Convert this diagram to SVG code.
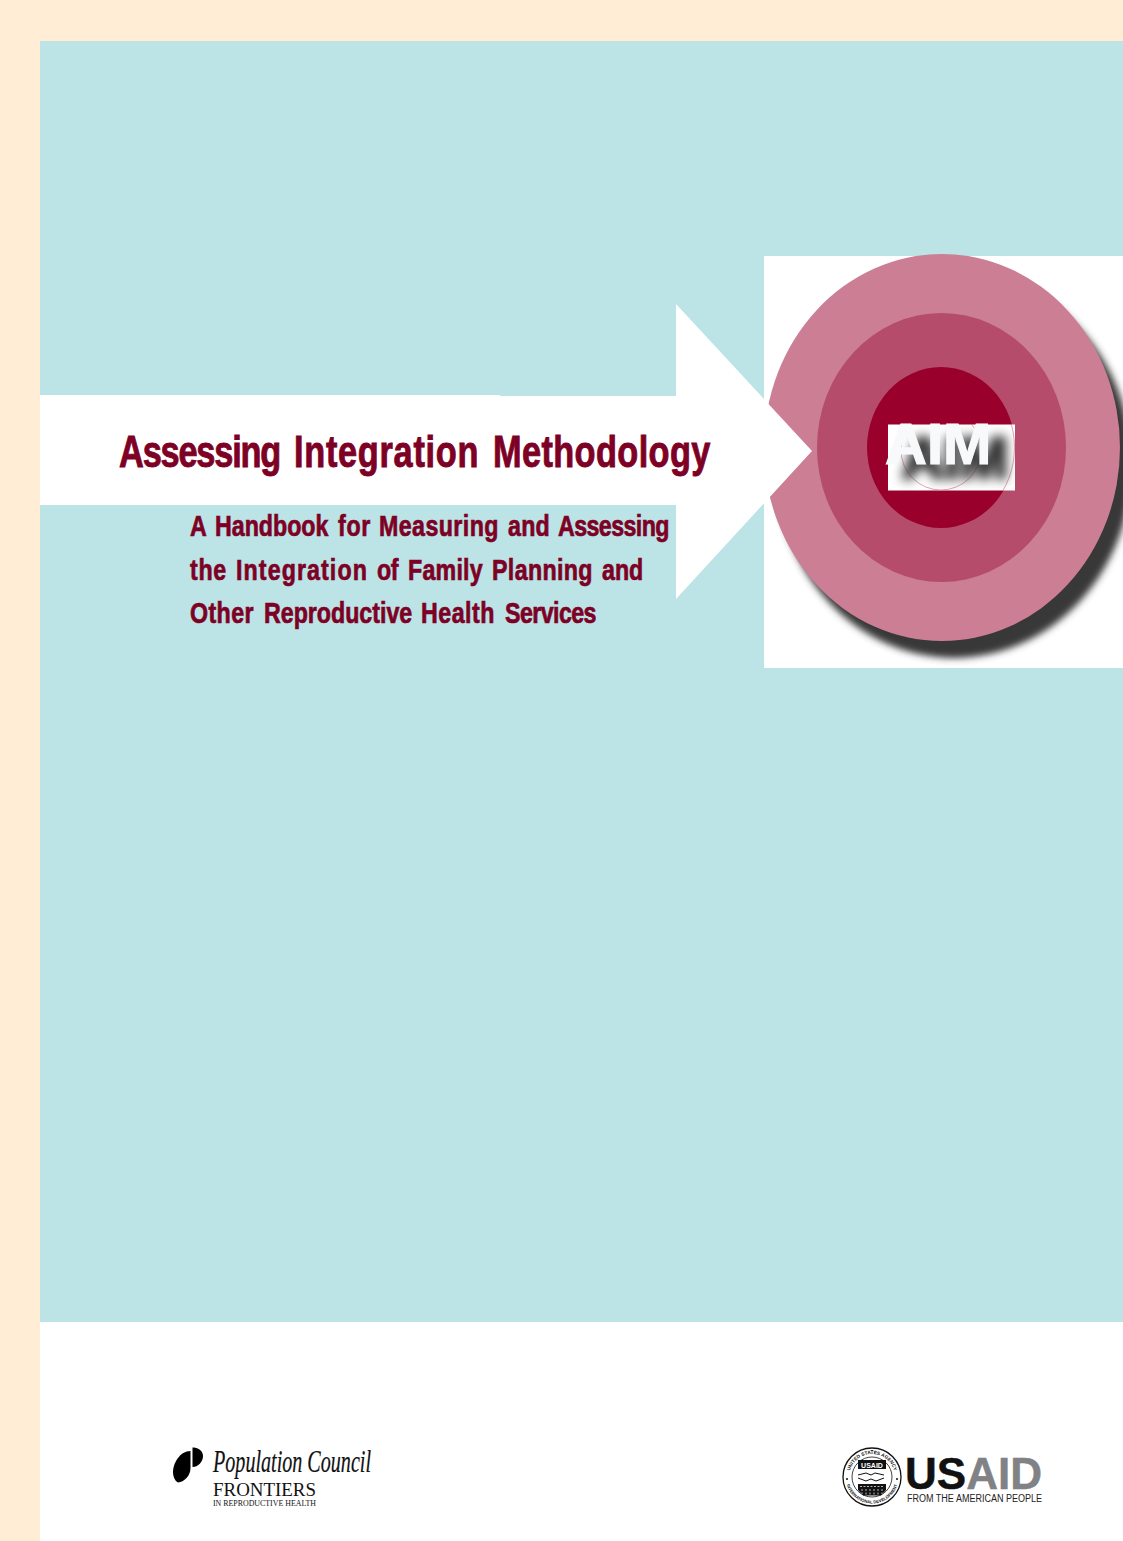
<svg xmlns="http://www.w3.org/2000/svg" xmlns:xlink="http://www.w3.org/1999/xlink" width="1123" height="1541" viewBox="0 0 1123 1541">
<style>
.t{font-family:"Liberation Sans",Arial,sans-serif;font-weight:700;fill:#7d0025;stroke:#7d0025}
.s{font-size:29px;stroke-width:0.700px}
.serif{font-family:"Liberation Serif","Times New Roman",serif;fill:#111}
.sans{font-family:"Liberation Sans",Arial,sans-serif}
</style>
<defs>
<filter id="b6" x="-20%" y="-20%" width="140%" height="140%"><feGaussianBlur stdDeviation="3.5"/></filter>
<filter id="aimShadow" filterUnits="userSpaceOnUse" x="878" y="414" width="145" height="85" color-interpolation-filters="sRGB">
<feMorphology in="SourceAlpha" operator="dilate" radius="1" result="fat"/>
<feOffset in="fat" dx="17" dy="14" result="off"/>
<feGaussianBlur in="off" stdDeviation="5.500" result="blur"/>
<feFlood x="888" y="424.500" width="127" height="66" flood-color="#333" result="col"/>
<feComposite in="col" in2="blur" operator="in" result="shadow"/>
<feMerge><feMergeNode in="shadow"/><feMergeNode in="SourceGraphic"/></feMerge>
</filter>
<clipPath id="whiteBox"><rect x="764" y="256" width="359" height="412"/></clipPath>
<clipPath id="aimBox"><rect x="888" y="424" width="127" height="66"/></clipPath>
<path id="sealTop" d="M849 1477a23 23 0 0 1 46 0"/>
<path id="sealBot" d="M845.500 1477a26.500 26.500 0 0 0 53 0"/>
</defs>
<g id="background">
<rect width="1123" height="1541" fill="#ffedd5"/>
<rect x="40" y="41" width="1083" height="1281" fill="#bce4e6"/>
<rect x="40" y="1322" width="1083" height="219" fill="#fff"/>
</g>
<g id="target">
<rect x="764" y="256" width="359" height="412" fill="#fff"/>
<g clip-path="url(#whiteBox)"><ellipse cx="954" cy="465" rx="178" ry="193" fill="#383838" filter="url(#b6)"/></g>
<ellipse cx="942" cy="447.500" rx="178" ry="193.500" fill="#cb7e94"/>
<ellipse cx="941.500" cy="447.500" rx="124.500" ry="134.500" fill="#b54c6b"/>
<ellipse cx="941" cy="447.500" rx="74" ry="80.500" fill="#99002b"/>
</g>
<g id="arrow">
<path d="M40 395H500V396H676V304L812 451 676 599V505H40Z" fill="#fff"/>
</g>
<g id="aim">
<rect x="888" y="424.500" width="127" height="66" fill="#fff"/>
<g clip-path="url(#aimBox)" fill="none" stroke="#c96a88" stroke-width="0.600">
<circle cx="941" cy="450" r="40"/>
<ellipse cx="941" cy="447.500" rx="73.500" ry="80"/>
</g>
<text x="885" y="464" class="sans" font-size="58" font-weight="700" fill="#f8f9fb" stroke="#f8f9fb" stroke-width="1.200" filter="url(#aimShadow)">AIM</text>
</g>
<g id="title">
<text y="467" transform="scale(.78,1)" class="t" font-size="44" stroke-width="0.900"><tspan x="152.600" letter-spacing="-1.500">Assessing</tspan> <tspan x="376.900" letter-spacing=".93">Integration</tspan> <tspan x="632.100" letter-spacing=".5">Methodology</tspan></text>
<text y="536" transform="scale(.8,1)" class="t s"><tspan x="237.500">A</tspan> <tspan x="268.750">Handbook</tspan> <tspan x="422.500" letter-spacing=".85">for</tspan> <tspan x="473.750" letter-spacing=".55">Measuring</tspan> <tspan x="635" letter-spacing=".3">and</tspan> <tspan x="697.500" letter-spacing="-.7">Assessing</tspan></text>
<text y="580" transform="scale(.8,1)" class="t s"><tspan x="237.500" letter-spacing=".9">the</tspan> <tspan x="295" letter-spacing="1.380">Integration</tspan> <tspan x="471.250" letter-spacing="-.4">of</tspan> <tspan x="510" letter-spacing=".3">Family</tspan> <tspan x="615" letter-spacing=".47">Planning</tspan> <tspan x="752.500">and</tspan></text>
<text y="623" transform="scale(.8,1)" class="t s"><tspan x="237.500" letter-spacing=".54">Other</tspan> <tspan x="330">Reproductive</tspan> <tspan x="526.250" letter-spacing=".65">Health</tspan> <tspan x="631.250" letter-spacing="-.7">Services</tspan></text>
</g>
<g id="population-council-logo">
<path d="M190.500 1451C180 1451 173 1463 173 1472C173 1477 175 1481 178 1482.500C184 1482 190.500 1476 190.500 1468Z" fill="#000"/>
<path d="M192.500 1447.500C198 1447 203 1451 203 1456C203 1462 198 1467 192.500 1467Z" fill="#000"/>
<text x="213" y="1472" class="serif" font-size="31" font-style="italic" stroke="#111" stroke-width="0.200" textLength="158" lengthAdjust="spacingAndGlyphs">Population Council</text>
<text x="213" y="1496" class="serif" font-size="19" textLength="103" lengthAdjust="spacingAndGlyphs">FRONTIERS</text>
<text x="213" y="1506" class="serif" font-size="7.500" textLength="103" lengthAdjust="spacingAndGlyphs">IN REPRODUCTIVE HEALTH</text>
</g>
<g id="usaid-logo">
<circle cx="872" cy="1477" r="29" fill="#fff" stroke="#111" stroke-width="1.300"/>
<circle cx="872" cy="1477" r="20" fill="#fff" stroke="#111" stroke-width="0.800"/>
<circle cx="847" cy="1479" r="1" fill="#111"/>
<circle cx="897" cy="1479" r="1" fill="#111"/>
<text class="sans" font-size="4.800" font-weight="700" fill="#111"><textPath xlink:href="#sealTop" href="#sealTop" startOffset="50%" text-anchor="middle">UNITED STATES AGENCY</textPath></text>
<text class="sans" font-size="4.200" font-weight="700" fill="#111"><textPath xlink:href="#sealBot" href="#sealBot" startOffset="50%" text-anchor="middle">INTERNATIONAL DEVELOPMENT</textPath></text>
<rect x="858" y="1460" width="28" height="9" fill="#111"/>
<text x="872" y="1467.500" class="sans" font-size="7" font-weight="700" fill="#fff" text-anchor="middle">USAID</text>
<path d="M858 1475l8-2 5 2 4-2 9 2M858 1478l8 3 5-2 5 2 8-3" fill="none" stroke="#111" stroke-width="1"/>
<path d="M858 1484H886V1490L881 1495.500H863L858 1490Z" fill="#111"/>
<path d="M862 1489v5M866 1489v6M870 1489v6M874 1489v6M878 1489v6M882 1489v5M860 1486.500h24" stroke="#fff" stroke-width="0.700" stroke-dasharray="2 1.500" fill="none"/>
<text x="905" y="1489" class="sans" font-size="45" font-weight="700" stroke-width="0.500" textLength="137" lengthAdjust="spacingAndGlyphs"><tspan fill="#111" stroke="#111">US</tspan><tspan fill="#808285" stroke="#808285">AID</tspan></text>
<text x="907" y="1502" class="sans" font-size="10" fill="#222" textLength="135" lengthAdjust="spacingAndGlyphs">FROM THE AMERICAN PEOPLE</text>
</g>
</svg>
